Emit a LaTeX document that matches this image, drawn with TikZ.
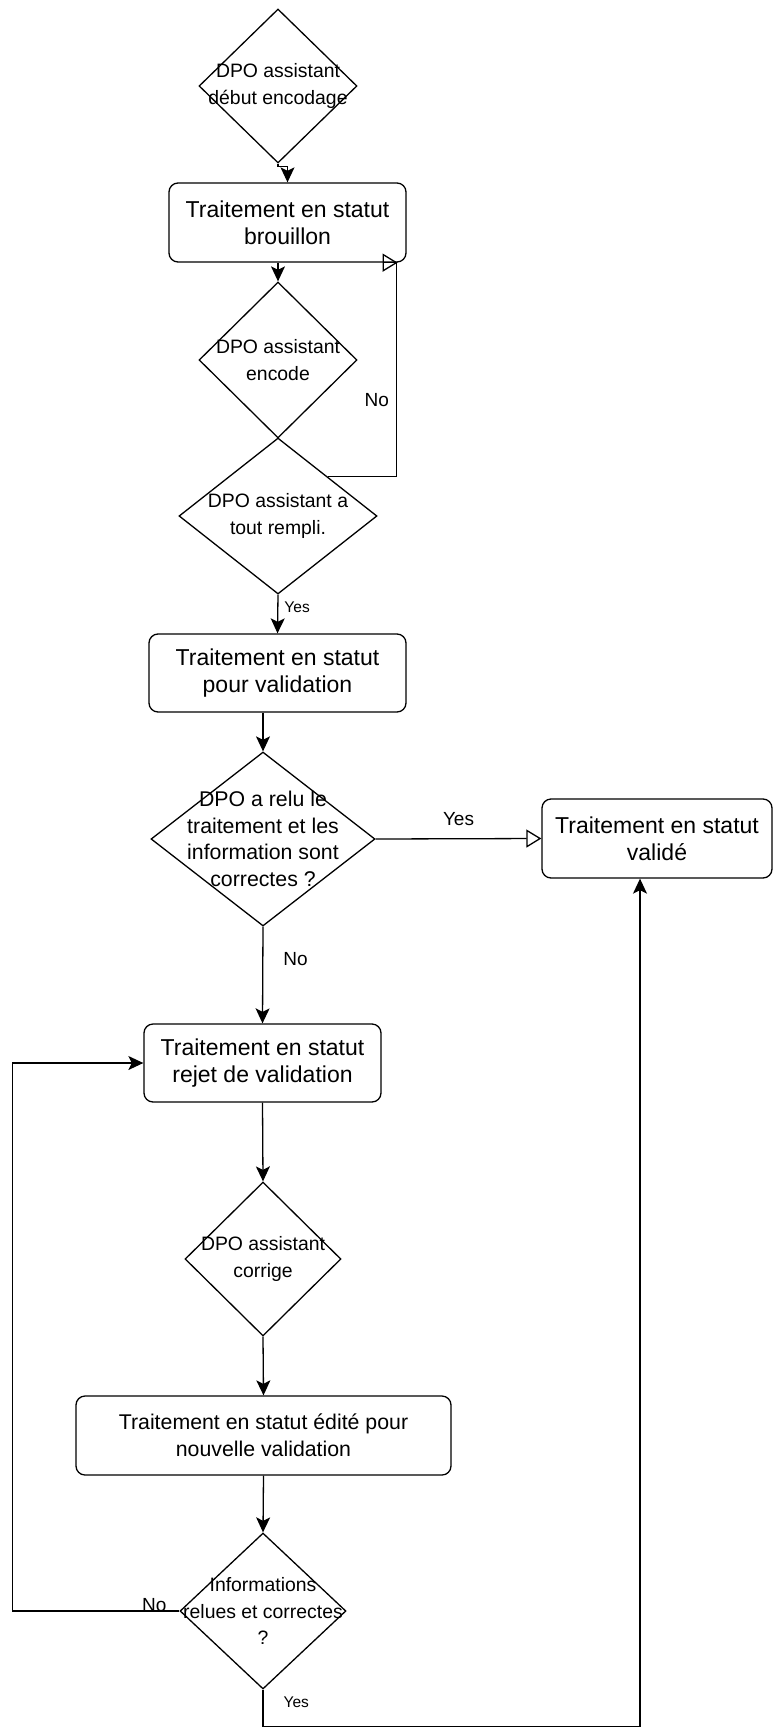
\documentclass[tikz,border=0pt]{standalone}
\usepackage{fontspec}
\setmainfont{Liberation Sans}
\usetikzlibrary{shapes.geometric}
\usetikzlibrary{arrows.meta}

\begin{document}
\begin{tikzpicture}[x=1pt,y=-1pt,
    box/.style={draw, line width=1.3pt, rounded corners=9pt, align=center, inner sep=0pt,
      font=\fontsize{23}{27}\selectfont},
    dec/.style={draw, diamond, line width=1.3pt, inner sep=0pt},
    dectext/.style={align=center, font=\fontsize{19.4}{26.7}\selectfont},
    arr/.style={line width=1.3pt, -{Stealth[length=15pt,width=14pt,inset=3.5pt]}},
    oarr/.style={line width=1.3pt, -{Triangle[open,length=15pt,width=18pt]}},
    lbl/.style={font=\fontsize{19}{22}\selectfont, inner sep=0pt},
    slbl/.style={font=\fontsize{15.5}{18}\selectfont, inner sep=0pt}]
    \useasboundingbox (0,0) rectangle (773,1728);
    % encodage
    \node[dec, minimum width=158pt, minimum height=154pt,
      label={[dectext]center:{DPO assistant\\début encodage}}] (D1) at (278,86) {};
    \node[box, minimum width=237pt, minimum height=79pt] (B1) at (287.5,222.5) {Traitement en statut\\brouillon};
    \node[dec, minimum width=158pt, minimum height=156pt,
      label={[dectext]center:{DPO assistant\\encode}}] (D2) at (278,360) {};
    \node[dec, minimum width=198pt, minimum height=156pt,
      label={[dectext]center:{DPO assistant a\\tout rempli.}}] (D3) at (278,516) {};
    % validation
    \node[box, minimum width=257pt, minimum height=78pt] (B2) at (277.5,673) {Traitement en statut\\pour validation};
    \node[dec, minimum width=224pt, minimum height=174pt,
      label={[dectext, font=\fontsize{21.3}{26.7}\selectfont]center:{DPO a relu le\\traitement et les\\information sont\\correctes ?}}] (D4) at (263,839) {};
    \node[box, minimum width=230pt, minimum height=79pt] (B3) at (657,838.5) {Traitement en statut\\validé};
    % rejet
    \node[box, minimum width=237pt, minimum height=78pt] (B4) at (262.5,1063) {Traitement en statut\\rejet de validation};
    \node[dec, minimum width=156pt, minimum height=154pt,
      label={[dectext]center:{DPO assistant\\corrige}}] (D5) at (263,1259) {};
    \node[box, minimum width=375pt, minimum height=79pt, font=\fontsize{21.3}{27}\selectfont] (B5) at (263.5,1435.5) {Traitement en statut édité pour\\nouvelle validation};
    \node[dec, minimum width=166pt, minimum height=156pt,
      label={[dectext]center:{Informations\\relues et correctes\\?}}] (D6) at (263,1611) {};

    \draw[arr] (D1.south) -- ++(0,3) -| (B1.north);
    \draw[arr] (B1.south -| D2.north) -- (D2.north);
    \draw[oarr] (D3.north east) -| node[lbl, pos=0.68, left=7pt] {No} ([xshift=-10pt]B1.south east)
      -- ([xshift=-9pt]B1.south east);
    \draw[arr] (D3.south) -- node[slbl, pos=0.33, right=6pt] {Yes} (B2.north);
    \draw[arr] (B2.south -| D4.north) -- (D4.north);
    \draw[oarr] (D4.east) -- node[lbl, above=12pt] {Yes} (B3.west);
    \draw[arr] (D4.south) -- node[lbl, pos=0.34, right=20pt] {No} (B4.north);
    \draw[arr] (B4.south) -- (D5.north);
    \draw[arr] (D5.south) -- (B5.north);
    \draw[arr] (B5.south) -- (D6.north);
    \draw[arr] (D6.west) -- node[lbl, pos=0.15, yshift=6pt] {No} ++(-167,0) |- (B4.west);
    \draw[arr] (D6.south) -- node[slbl, pos=0.35, right=20pt] {Yes} ++(0,37) -| ([xshift=-17pt]B3.south);
\end{tikzpicture}
\end{document}
